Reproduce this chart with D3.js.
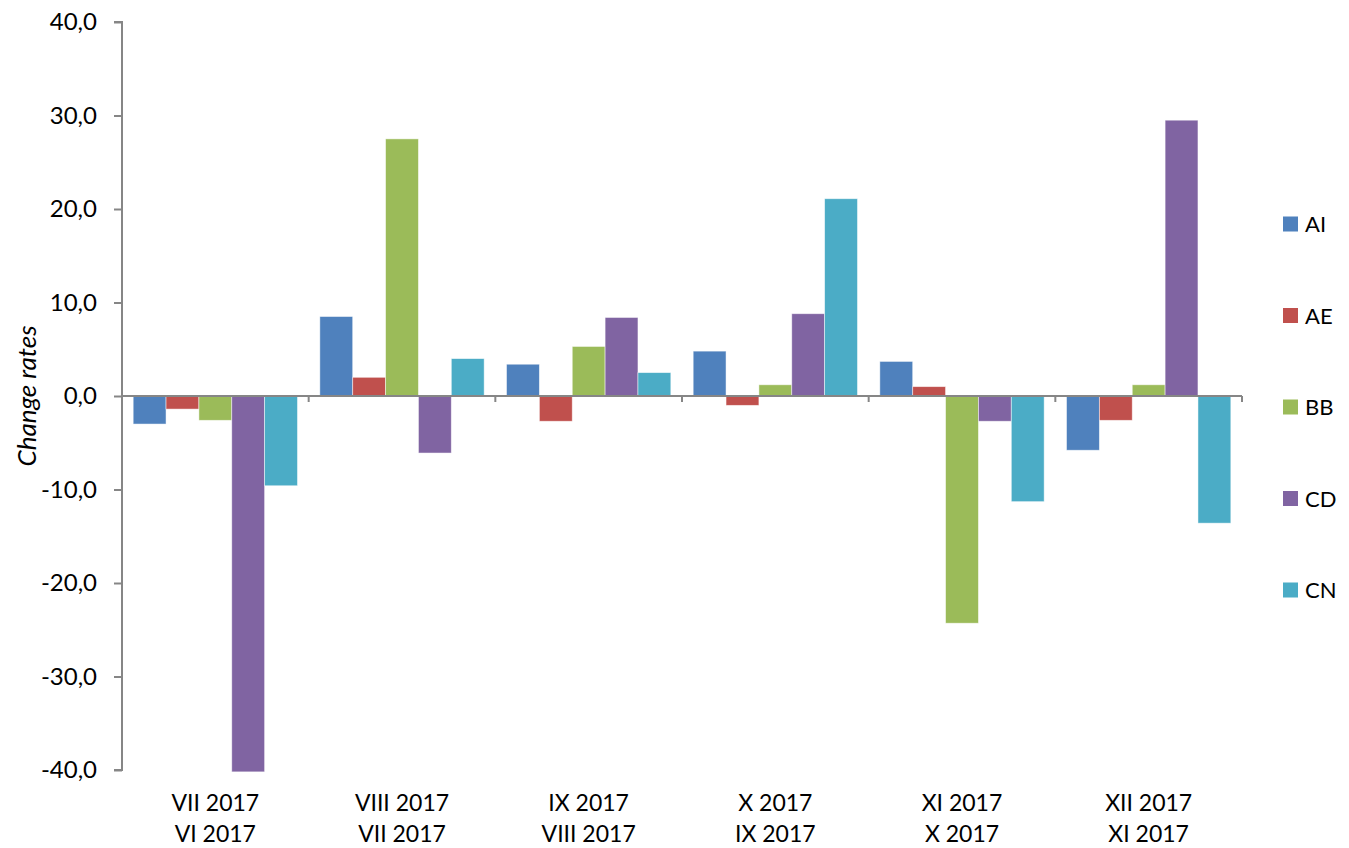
<!DOCTYPE html>
<html><head><meta charset="utf-8">
<script src="https://cdn.jsdelivr.net/npm/d3@7"></script>
<style>body{margin:0;background:#fff}svg{display:block}</style>
</head><body>
<svg id="chart" width="1349" height="848"></svg>
<script>
const categoriesTop = ["VII 2017","VIII 2017","IX 2017","X 2017","XI 2017","XII 2017"];
const categoriesBottom = ["VI 2017","VII 2017","VIII 2017","IX 2017","X 2017","XI 2017"];
const seriesNames = ["AI","AE","BB","CD","CN"];
const seriesColors = ["#4F81BD","#C0504D","#9BBB59","#8064A2","#4BACC6"];
const AI = [-3.0, 8.5, 3.4, 4.8, 3.7, -5.8];
const AE = [-1.4, 2.0, -2.7, -1.0, 1.0, -2.6];
const BB = [-2.6, 27.5, 5.3, 1.2, -24.3, 1.2];
const CD = [-40.2, -6.1, 8.4, 8.8, -2.7, 29.5];
const CN = [-9.6, 4.0, 2.5, 21.1, -11.3, -13.6];
const yTicks = [-40,-30,-20,-10,0,10,20,30,40];
const yTitle = "Change rates";

const seriesValues = [AI, AE, BB, CD, CN];
const svg = d3.select("#chart");
const font = "Lato, 'Open Sans', sans-serif";
const mLeft = 122, mRight = 1242, mTop = 22, mBottom = 770;

const y = d3.scaleLinear().domain([-40, 40]).range([mBottom, mTop]);
const x0 = d3.scaleBand().domain(d3.range(categoriesTop.length)).range([mLeft, mRight]).padding(0);
const x1 = d3.scaleBand().domain(d3.range(seriesNames.length)).range([0, x0.bandwidth()]).paddingInner(0).paddingOuter(0.34);

const axisColor = "#868686";

// bars
const groups = svg.append("g").selectAll("g").data(categoriesTop).join("g")
  .attr("transform", (d, i) => `translate(${x0(i)},0)`);
groups.selectAll("rect").data((d, i) => seriesValues.map((s, k) => ({k, v: s[i]})))
  .join("rect")
  .attr("x", d => x1(d.k))
  .attr("width", x1.bandwidth())
  .attr("y", d => y(Math.max(0, d.v)))
  .attr("height", d => Math.abs(y(d.v) - y(0)))
  .attr("fill", d => seriesColors[d.k])
  .attr("stroke", "rgba(255,255,255,0.6)")
  .attr("stroke-width", 0.8);

// y axis
const yAxis = d3.axisLeft(y).tickValues(yTicks).tickSize(8).tickPadding(17)
  .tickFormat(d => d3.format(".1f")(d).replace(".", ",").replace("−", "-"));
const gy = svg.append("g").attr("transform", `translate(${mLeft},0)`).call(yAxis);
gy.select(".domain").attr("stroke", axisColor).attr("stroke-width", 2).attr("d", `M-8,${mTop}H0V${mBottom}H-8`);
gy.selectAll(".tick line").attr("stroke", axisColor).attr("stroke-width", 2);
gy.selectAll(".tick text").attr("font-family", font).attr("font-size", 24).attr("fill", "#000");

// x axis at zero
const gx = svg.append("g").attr("transform", `translate(0,${y(0)})`);
gx.append("line").attr("x1", mLeft).attr("x2", mRight).attr("stroke", axisColor).attr("stroke-width", 2);
gx.selectAll("line.tk").data(d3.range(categoriesTop.length)).join("line").attr("class", "tk")
  .attr("x1", i => x0(i) + x0.bandwidth()).attr("x2", i => x0(i) + x0.bandwidth())
  .attr("y1", 0).attr("y2", 6).attr("stroke", axisColor).attr("stroke-width", 2);

// category labels
const lab = svg.append("g");
lab.selectAll("text.t1").data(categoriesTop).join("text").attr("class", "t1")
  .attr("x", (d, i) => x0(i) + x0.bandwidth() / 2).attr("y", 811)
  .attr("text-anchor", "middle").attr("font-family", font).attr("font-size", 23).text(d => d);
lab.selectAll("text.t2").data(categoriesBottom).join("text").attr("class", "t2")
  .attr("x", (d, i) => x0(i) + x0.bandwidth() / 2).attr("y", 842)
  .attr("text-anchor", "middle").attr("font-family", font).attr("font-size", 23).text(d => d);

// y title
svg.append("text").attr("transform", `translate(36,${y(0)}) rotate(-90)`)
  .attr("text-anchor", "middle").attr("font-family", font).attr("font-style", "italic")
  .attr("font-size", 26).text(yTitle);

// legend
const leg = svg.append("g").selectAll("g").data(seriesNames).join("g")
  .attr("transform", (d, i) => `translate(1283,${224 + i * 91.5})`);
leg.append("rect").attr("x", 0).attr("y", -7.5).attr("width", 15).attr("height", 15)
  .attr("fill", (d, i) => seriesColors[i]);
leg.append("text").attr("x", 22).attr("y", 8).attr("font-family", font).attr("font-size", 22).text(d => d);
</script>
</body></html>
